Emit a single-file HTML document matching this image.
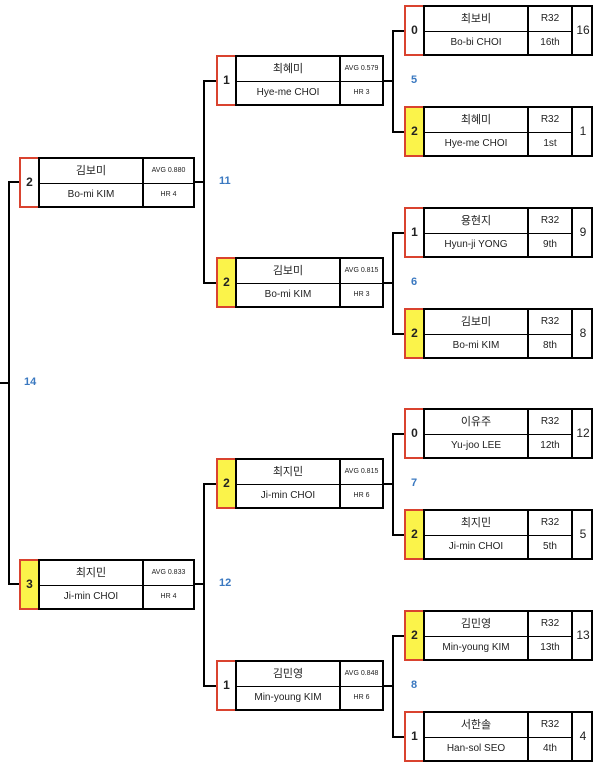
<!DOCTYPE html>
<html><head><meta charset="utf-8"><style>
body{margin:0;width:601px;height:768px;background:#fff;position:relative;overflow:hidden;font-family:"Liberation Sans","Noto Sans CJK KR",sans-serif;color:#222}
.b{position:absolute;height:51px}
.s{position:absolute;left:0;top:0;width:17px;height:47px;border:2px solid #d9432f;border-right:none;font-weight:bold;font-size:12px;line-height:47px;text-align:center;background:#fff}
.s.y{background:#fbf34a}
.t{position:absolute;left:19px;top:0;height:47px;border:2px solid #000;background:#fff}
.c{position:absolute;text-align:center;font-size:10px;line-height:24px;height:24px}
.n{left:0;width:102px;border-right:2px solid #000}
.k{font-size:11px}
.r1{top:0;border-bottom:1px solid #000}
.r2{top:24px}
.sm{font-size:7px}
.sd{position:absolute;top:0;height:47px;line-height:47px;font-size:12px;text-align:center;border-left:2px solid #000}
.h{position:absolute;height:2px;background:#000}
.v{position:absolute;width:2px;background:#000}
.l{position:absolute;color:#3a78c0;font-weight:bold;font-size:11px}
</style></head><body>
<!-- connectors -->
<div class="h" style="left:0;top:382px;width:10px"></div>
<div class="v" style="left:8px;top:181px;height:404px"></div>
<div class="h" style="left:8px;top:181px;width:12px"></div>
<div class="h" style="left:8px;top:583px;width:12px"></div>
<div class="h" style="left:193px;top:181px;width:12px"></div>
<div class="h" style="left:193px;top:583px;width:12px"></div>
<div class="v" style="left:203px;top:80px;height:203px"></div>
<div class="v" style="left:203px;top:483px;height:203px"></div>
<div class="h" style="left:203px;top:80px;width:14px"></div>
<div class="h" style="left:203px;top:282px;width:14px"></div>
<div class="h" style="left:203px;top:483px;width:14px"></div>
<div class="h" style="left:203px;top:685px;width:14px"></div>
<div class="h" style="left:382px;top:80px;width:12px"></div>
<div class="h" style="left:382px;top:282px;width:12px"></div>
<div class="h" style="left:382px;top:483px;width:12px"></div>
<div class="h" style="left:382px;top:685px;width:12px"></div>
<div class="v" style="left:392px;top:30px;height:102px"></div>
<div class="v" style="left:392px;top:232px;height:102px"></div>
<div class="v" style="left:392px;top:433px;height:102px"></div>
<div class="v" style="left:392px;top:635px;height:102px"></div>
<div class="h" style="left:392px;top:30px;width:13px"></div>
<div class="h" style="left:392px;top:131px;width:13px"></div>
<div class="h" style="left:392px;top:232px;width:13px"></div>
<div class="h" style="left:392px;top:333px;width:13px"></div>
<div class="h" style="left:392px;top:433px;width:13px"></div>
<div class="h" style="left:392px;top:534px;width:13px"></div>
<div class="h" style="left:392px;top:635px;width:13px"></div>
<div class="h" style="left:392px;top:736px;width:13px"></div>
<!-- labels -->
<div class="l" style="left:24px;top:376px">14</div>
<div class="l" style="left:219px;top:175px">11</div>
<div class="l" style="left:219px;top:577px">12</div>
<div class="l" style="left:411px;top:74px">5</div>
<div class="l" style="left:411px;top:276px">6</div>
<div class="l" style="left:411px;top:477px">7</div>
<div class="l" style="left:411px;top:679px">8</div>

<!-- col1 -->
<div class="b" style="left:19px;top:157px"><div class="s">2</div><div class="t" style="width:153px"><div class="c n r1 k">김보미</div><div class="c n r2">Bo-mi KIM</div><div class="c r1 sm" style="left:104px;width:49px">AVG 0.880</div><div class="c r2 sm" style="left:104px;width:49px">HR 4</div></div></div>
<div class="b" style="left:19px;top:559px"><div class="s y">3</div><div class="t" style="width:153px"><div class="c n r1 k">최지민</div><div class="c n r2">Ji-min CHOI</div><div class="c r1 sm" style="left:104px;width:49px">AVG 0.833</div><div class="c r2 sm" style="left:104px;width:49px">HR 4</div></div></div>

<!-- col2 -->
<div class="b" style="left:216px;top:55px"><div class="s">1</div><div class="t" style="width:145px"><div class="c n r1 k">최혜미</div><div class="c n r2">Hye-me CHOI</div><div class="c r1 sm" style="left:104px;width:41px">AVG 0.579</div><div class="c r2 sm" style="left:104px;width:41px">HR 3</div></div></div>
<div class="b" style="left:216px;top:257px"><div class="s y">2</div><div class="t" style="width:145px"><div class="c n r1 k">김보미</div><div class="c n r2">Bo-mi KIM</div><div class="c r1 sm" style="left:104px;width:41px">AVG 0.815</div><div class="c r2 sm" style="left:104px;width:41px">HR 3</div></div></div>
<div class="b" style="left:216px;top:458px"><div class="s y">2</div><div class="t" style="width:145px"><div class="c n r1 k">최지민</div><div class="c n r2">Ji-min CHOI</div><div class="c r1 sm" style="left:104px;width:41px">AVG 0.815</div><div class="c r2 sm" style="left:104px;width:41px">HR 6</div></div></div>
<div class="b" style="left:216px;top:660px"><div class="s">1</div><div class="t" style="width:145px"><div class="c n r1 k">김민영</div><div class="c n r2">Min-young KIM</div><div class="c r1 sm" style="left:104px;width:41px">AVG 0.848</div><div class="c r2 sm" style="left:104px;width:41px">HR 6</div></div></div>

<!-- col3 -->
<div class="b" style="left:404px;top:5px"><div class="s">0</div><div class="t" style="width:166px"><div class="c n r1 k">최보비</div><div class="c n r2">Bo-bi CHOI</div><div class="c r1" style="left:104px;width:42px">R32</div><div class="c r2" style="left:104px;width:42px">16th</div><div class="sd" style="left:146px;width:20px">16</div></div></div>
<div class="b" style="left:404px;top:106px"><div class="s y">2</div><div class="t" style="width:166px"><div class="c n r1 k">최혜미</div><div class="c n r2">Hye-me CHOI</div><div class="c r1" style="left:104px;width:42px">R32</div><div class="c r2" style="left:104px;width:42px">1st</div><div class="sd" style="left:146px;width:20px">1</div></div></div>
<div class="b" style="left:404px;top:207px"><div class="s">1</div><div class="t" style="width:166px"><div class="c n r1 k">용현지</div><div class="c n r2">Hyun-ji YONG</div><div class="c r1" style="left:104px;width:42px">R32</div><div class="c r2" style="left:104px;width:42px">9th</div><div class="sd" style="left:146px;width:20px">9</div></div></div>
<div class="b" style="left:404px;top:308px"><div class="s y">2</div><div class="t" style="width:166px"><div class="c n r1 k">김보미</div><div class="c n r2">Bo-mi KIM</div><div class="c r1" style="left:104px;width:42px">R32</div><div class="c r2" style="left:104px;width:42px">8th</div><div class="sd" style="left:146px;width:20px">8</div></div></div>
<div class="b" style="left:404px;top:408px"><div class="s">0</div><div class="t" style="width:166px"><div class="c n r1 k">이유주</div><div class="c n r2">Yu-joo LEE</div><div class="c r1" style="left:104px;width:42px">R32</div><div class="c r2" style="left:104px;width:42px">12th</div><div class="sd" style="left:146px;width:20px">12</div></div></div>
<div class="b" style="left:404px;top:509px"><div class="s y">2</div><div class="t" style="width:166px"><div class="c n r1 k">최지민</div><div class="c n r2">Ji-min CHOI</div><div class="c r1" style="left:104px;width:42px">R32</div><div class="c r2" style="left:104px;width:42px">5th</div><div class="sd" style="left:146px;width:20px">5</div></div></div>
<div class="b" style="left:404px;top:610px"><div class="s y">2</div><div class="t" style="width:166px"><div class="c n r1 k">김민영</div><div class="c n r2">Min-young KIM</div><div class="c r1" style="left:104px;width:42px">R32</div><div class="c r2" style="left:104px;width:42px">13th</div><div class="sd" style="left:146px;width:20px">13</div></div></div>
<div class="b" style="left:404px;top:711px"><div class="s">1</div><div class="t" style="width:166px"><div class="c n r1 k">서한솔</div><div class="c n r2">Han-sol SEO</div><div class="c r1" style="left:104px;width:42px">R32</div><div class="c r2" style="left:104px;width:42px">4th</div><div class="sd" style="left:146px;width:20px">4</div></div></div>
</body></html>
